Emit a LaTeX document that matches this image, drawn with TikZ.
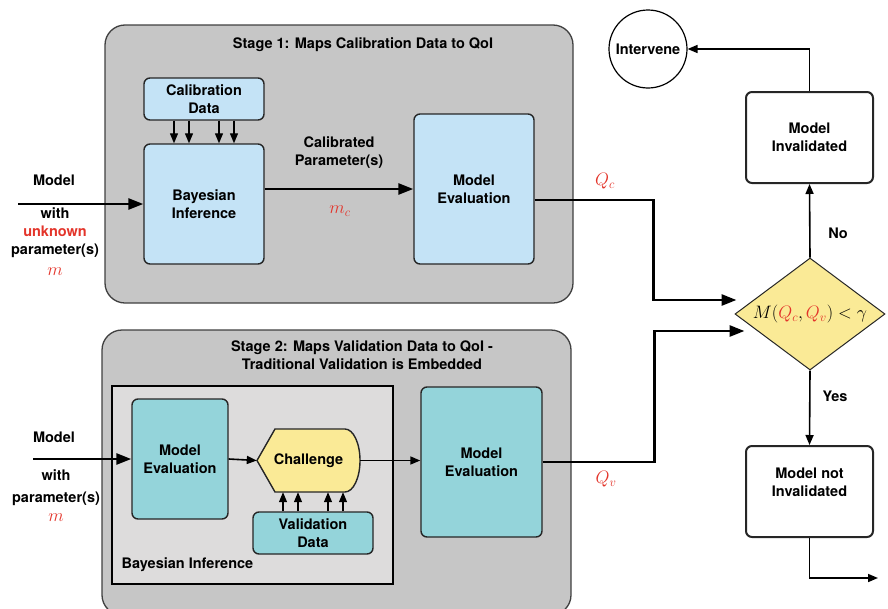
\RequirePackage{fix-cm}
\documentclass[tikz,border=0pt]{standalone}
\usepackage{amsmath}
\usepackage{fontspec}
\setmainfont{TeX Gyre Heros}
\usepackage{xcolor}
\usetikzlibrary{arrows.meta,shapes.geometric,calc}
\definecolor{stagegray}{HTML}{C6C6C6}
\definecolor{innergray}{HTML}{DDDCDC}
\definecolor{calblue}{HTML}{C4E3F6}
\definecolor{valteal}{HTML}{94D4DA}
\definecolor{hiyellow}{HTML}{FAEA96}
\definecolor{qred}{HTML}{E3342A}

\begin{document}
\begin{tikzpicture}[x=1pt,y=-1pt,
        font=\fontsize{14.5}{18}\selectfont\bfseries,
        stagebox/.style={draw=black!75,fill=stagegray,line width=1.3pt,rounded corners=20pt},
        box/.style={draw=black!85,line width=1.4pt,rounded corners=6pt,align=center},
        bluebox/.style={box,fill=calblue},
        tealbox/.style={box,fill=valteal},
        whitebox/.style={box,fill=white,line width=2pt},
        mathlabel/.style={text=qred,font=\fontsize{18}{20}\selectfont},
        mainarrow/.style={line width=2.7pt,-{Triangle[length=15pt,width=11pt]}},
        flowarrow/.style={line width=1.6pt,-{Triangle[length=10pt,width=8pt]}},
        smallarrow/.style={line width=1.3pt,-{Triangle[length=10pt,width=8pt]}}]
    \useasboundingbox (0,0) rectangle (888,608);
    \node[stagebox,minimum width=468,minimum height=278] (stageA) at (339,164) {};
    \node (titleA) at (363,45) {Stage 1: Maps Calibration Data to QoI};
    \node[bluebox,minimum width=120,minimum height=42] (calib) at (204,99) {Calibration\\Data};
    \node[bluebox,minimum width=120,minimum height=120] (bayesA) at (204,204) {Bayesian\\Inference};
    \node[bluebox,minimum width=120,minimum height=150] (evalA) at (474,189) {Model\\Evaluation};
    \node[align=center] (calpar) at (339,153) {Calibrated\\Parameter(s)};
    \node[mathlabel] (mc) at (340,211) {$m_c$};
    \foreach \dx in {-30,-15,15,30}
        \draw[smallarrow] ([xshift=\dx]calib.south) -- ([xshift=\dx]bayesA.north);

    \node[stagebox,minimum width=469,minimum height=285] (stageB) at (336.5,472.5) {};
    \node[align=center] (titleB) at (362,355) {Stage 2: Maps Validation Data to QoI -\\Traditional Validation is Embedded};
    \node[draw,fill=innergray,line width=1.5pt,minimum width=281,minimum height=198] (bayesB) at (252.5,485) {};
    \node[anchor=west] (bayeslabel) at (118,565) {Bayesian Inference};
    \node[tealbox,minimum width=96,minimum height=120] (evalB1) at (180,459) {Model\\Evaluation};
    \filldraw[fill=hiyellow,draw=black!85,line width=1.4pt] (257,460.5) -- (275,429) -- (345,429)
        arc[start angle=-90,end angle=90,x radius=15,y radius=31.5] -- (275,492) -- cycle;
    \node[minimum width=103,minimum height=63] (challenge) at (308.5,460.5) {Challenge};
    \node[tealbox,minimum width=120,minimum height=42] (valid) at (313,533) {Validation\\Data};
    \node[tealbox,minimum width=121,minimum height=150] (evalB2) at (481.5,462) {Model\\Evaluation};
    \foreach \dx in {-30,-15,15,30}
        \draw[smallarrow] ([xshift=\dx]valid.north) -- ([xshift=\dx]valid.north |- challenge.south);

    \node[diamond,aspect=1.34,draw=black!85,fill=hiyellow,line width=1pt,inner sep=1pt,minimum width=150,minimum height=112] (test) at (810,314)
        {\fontsize{18}{20}\selectfont$M(\textcolor{qred}{Q_c},\textcolor{qred}{Q_v})<\gamma$};
    \node[whitebox,minimum width=127,minimum height=91] (invalid) at (809.5,137.5) {Model\\Invalidated};
    \node[whitebox,minimum width=127,minimum height=91,text depth=19pt] (notinvalid) at (809.5,491.5) {Model not\\Invalidated};
    \node[draw,circle,line width=1.2pt,minimum size=78] (intervene) at (648,49) {Intervene};
    \node (no) at (838,233) {No};
    \node (yes) at (835,396) {Yes};
    \node[mathlabel] (qc) at (605,181) {$Q_c$};
    \node[mathlabel] (qv) at (606,479) {$Q_v$};

    \node (modelA) at (54,180) {Model};
    \node[align=center] (withA) at (55,233) {with\\\textcolor{qred}{unknown}\\parameter(s)};
    \node[mathlabel] (mA) at (55,272) {$m$};
    \node (modelB) at (54,437) {Model};
    \node[align=center,font=\fontsize{14.5}{22}\selectfont\bfseries] (withB) at (56,488) {with\\parameter(s)};
    \node[mathlabel] (mB) at (56,518) {$m$};

    \coordinate (inA) at (18,204);
    \coordinate (inB) at (33,459);
    \coordinate (outC) at (878,578);
    \draw[mainarrow] (inA) -- (bayesA.west);
    \draw[mainarrow] (bayesA.east |- evalA.west) -- (evalA.west);
    \draw[mainarrow] ($(evalA.east)+(0,11)$) -| ($(test.west)+(-81,-14)$) -- ($(test.west)+(2,-14)$);
    \draw[mainarrow] (inB) -- (evalB1.west);
    \draw[flowarrow] (evalB1.east) -- (challenge.west);
    \draw[flowarrow] (challenge.east) -- (challenge.east -| evalB2.west);
    \draw[mainarrow] (evalB2.east) -| ($(test.west)+(-80,17)$) -- ($(test.west)+(10,17)$);
    \draw[flowarrow] (test.north) -- (invalid.south);
    \draw[flowarrow] (test.south) -- (notinvalid.north);
    \draw[flowarrow] (invalid.north) |- (intervene.east);
    \draw[flowarrow] (notinvalid.south) |- (outC);
\end{tikzpicture}
\end{document}
